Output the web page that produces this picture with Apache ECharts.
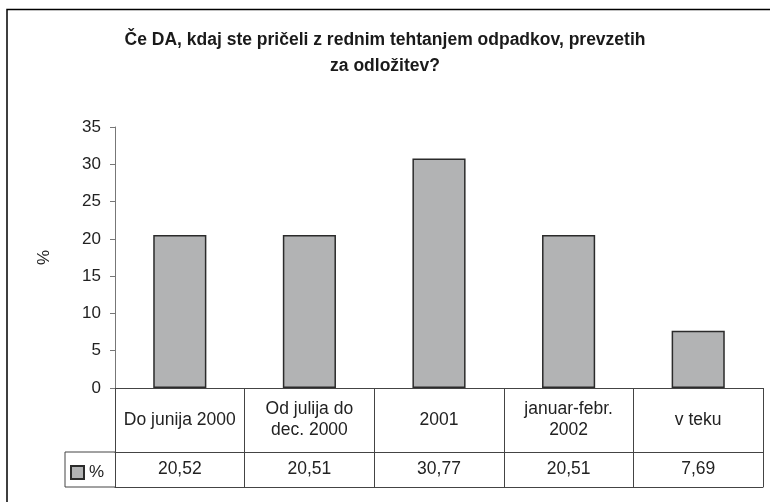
<!DOCTYPE html>
<html>
<head>
<meta charset="utf-8">
<script src="https://cdn.jsdelivr.net/npm/echarts@6/dist/echarts.min.js"></script>
<style>html,body{margin:0;padding:0;background:#fff}#c{width:770px;height:502px}</style>
</head>
<body>
<div id="c"></div>
<script>
var titleText = 'Če DA, kdaj ste pričeli z rednim tehtanjem odpadkov, prevzetih\nza odložitev?';
var categories = ['Do junija 2000', 'Od julija do\ndec. 2000', '2001', 'januar-febr.\n2002', 'v teku'];
var seriesName = '%';
var values = [20.52, 20.51, 30.77, 20.51, 7.69];
var yTicks = { min: 0, max: 35, interval: 5 };
var yAxisName = '%';

var FONT = '"Liberation Sans", Arial, sans-serif';
var LINE = '#444';

function fmt(v) { return v.toFixed(2).replace('.', ','); }

var chart = echarts.init(document.getElementById('c'), null, { renderer: 'canvas' });
chart.setOption({
  backgroundColor: '#fff',
  animation: false,
  textStyle: { fontFamily: FONT },
  title: {
    text: titleText,
    left: 'center',
    top: 22,
    textStyle: { fontFamily: FONT, fontSize: 17.5, fontWeight: 'bold', color: '#1a1a1a', lineHeight: 26 }
  },
  legend: {
    data: [seriesName],
    left: 70,
    top: 464,
    padding: 0,
    itemGap: 0,
    icon: 'rect',
    itemWidth: 13,
    itemHeight: 13,
    textStyle: { fontFamily: FONT, fontSize: 17, color: '#222' }
  },
  grid: { left: 115, right: 7, top: 127, bottom: 114, containLabel: false },
  xAxis: [
    {
      type: 'category',
      data: categories,
      position: 'bottom',
      boundaryGap: true,
      axisLine: { show: true, lineStyle: { color: LINE, width: 1 } },
      axisTick: { show: true, interval: 0, length: 99, lineStyle: { color: LINE, width: 1 } },
      axisLabel: { interval: 0, margin: 32, verticalAlign: 'middle', fontFamily: FONT, fontSize: 17.5, color: '#222', lineHeight: 21 },
      splitLine: { show: false }
    },
    {
      type: 'category',
      data: categories,
      position: 'bottom',
      offset: 64,
      axisLine: { show: true, lineStyle: { color: LINE, width: 1 } },
      axisTick: { show: false },
      axisLabel: { interval: 0, margin: 17, verticalAlign: 'middle', fontFamily: FONT, fontSize: 17.5, color: '#222',
        formatter: function (v, i) { return fmt(values[i]); } },
      splitLine: { show: false }
    },
    {
      type: 'category',
      data: categories,
      position: 'bottom',
      offset: 99,
      axisLine: { show: true, lineStyle: { color: LINE, width: 1 } },
      axisTick: { show: false },
      axisLabel: { show: false },
      splitLine: { show: false }
    }
  ],
  yAxis: {
    type: 'value',
    min: yTicks.min,
    max: yTicks.max,
    interval: yTicks.interval,
    name: yAxisName,
    nameLocation: 'middle',
    nameGap: 62,
    nameRotate: 90,
    nameTextStyle: { fontFamily: FONT, fontSize: 17, color: '#222' },
    axisLine: { show: true, lineStyle: { color: '#777', width: 1 } },
    axisTick: { show: true, length: 5, lineStyle: { color: '#777' } },
    axisLabel: { margin: 14, fontFamily: FONT, fontSize: 17, color: '#222' },
    splitLine: { show: false }
  },
  series: [{
    name: seriesName,
    type: 'bar',
    xAxisIndex: 0,
    data: values,
    barWidth: '41%',
    itemStyle: { color: '#b2b3b4', borderColor: '#2b2b2b', borderWidth: 1.5 }
  }],
  graphic: [
    { type: 'rect', silent: true, shape: { x: 7, y: 9.5, width: 800, height: 600 }, style: { fill: 'none', stroke: '#000', lineWidth: 1.5 } },
    { type: 'line', silent: true, shape: { x1: 65, y1: 452, x2: 115, y2: 452 }, style: { stroke: LINE, lineWidth: 1 } },
    { type: 'line', silent: true, shape: { x1: 65, y1: 487, x2: 115, y2: 487 }, style: { stroke: LINE, lineWidth: 1 } },
    { type: 'line', silent: true, shape: { x1: 65, y1: 452, x2: 65, y2: 487 }, style: { stroke: LINE, lineWidth: 1 } }
  ]
});
</script>
</body>
</html>
